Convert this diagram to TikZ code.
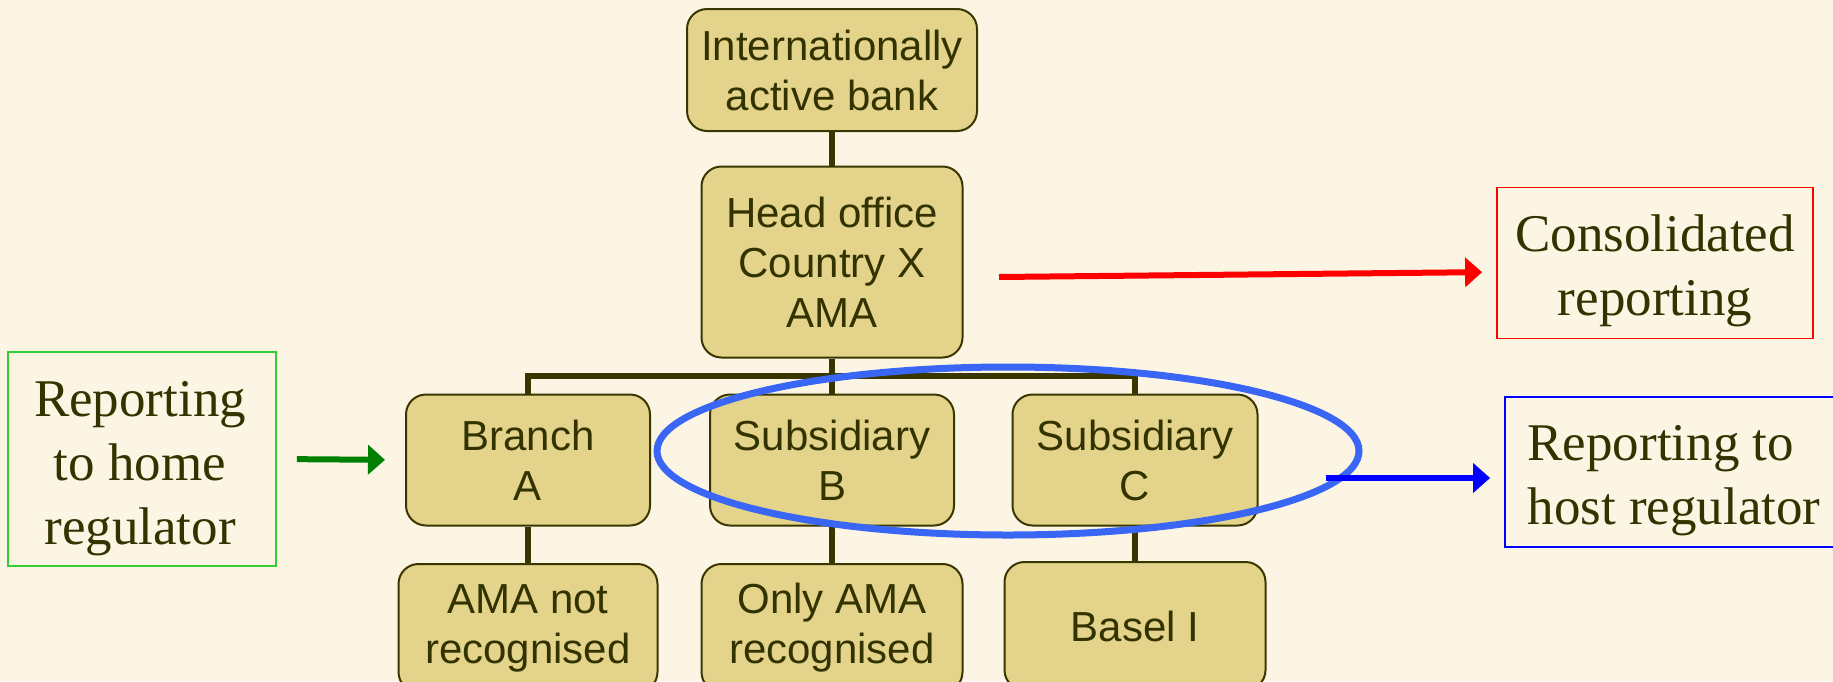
\documentclass[tikz,border=0pt]{standalone}
\usepackage{fontspec}
\setmainfont{Liberation Serif}
\newfontfamily\boxfont{Liberation Sans}
\usetikzlibrary{arrows.meta,calc}
\definecolor{bgc}{HTML}{FCF5E4}
\definecolor{boxfill}{HTML}{E4D48B}
\definecolor{ink}{HTML}{333300}
\definecolor{linkc}{HTML}{3A3600}
\definecolor{ellblue}{HTML}{3A66F5}
\definecolor{greenbox}{HTML}{33CC33}
\definecolor{greenarrow}{HTML}{008000}
\tikzset{
  orgbox/.style={draw=linkc, line width=2pt, fill=boxfill, rounded corners=20pt,
    align=center, text=ink, inner sep=0pt,
    font=\boxfont\fontsize{42}{50}\selectfont},
  sidebox/.style={line width=1.8pt, inner sep=0pt},
  sidetext/.style={text=ink, inner sep=0pt,
    font=\fontsize{53}{64}\selectfont},
  link/.style={draw=linkc, line width=6pt},
  arr/.style={line width=6pt, -{Triangle[length=17pt,width=29pt]}}
}
\begin{document}
\begin{tikzpicture}[x=1pt,y=-1pt]
\fill[bgc] (0,0) rectangle (1833,681);
\useasboundingbox (0,0) rectangle (1833,681);
\clip (0,0) rectangle (1833,681);

% org boxes
\node[orgbox, minimum width=290pt, minimum height=122pt] (top) at (832,70) {Internationally\\active bank};
\node[orgbox, minimum width=261pt, minimum height=191pt] (head) at (832,262) {Head office\\Country X\\AMA};
\node[orgbox, minimum width=244pt, minimum height=131pt] (A) at (528,460) {Branch\\A};
\node[orgbox, minimum width=244pt, minimum height=131pt] (B) at (832,460) {Subsidiary\\B};
\node[orgbox, minimum width=245pt, minimum height=131pt] (C) at (1135,460) {Subsidiary\\C};

% connectors
\coordinate (bar) at (832,376);
\draw[link] (top.south) -- (head.north);
\draw[link] (head.south) -- (B.north);
\draw[link] (A.north) |- (bar) -| (C.north);

\node[orgbox, minimum width=259pt, minimum height=128pt] (A1) at (528,628) {AMA not\\recognised};
\node[orgbox, minimum width=261pt, minimum height=128pt] (B1) at (832,628) {Only AMA\\recognised};
\node[orgbox, minimum width=261pt, minimum height=128pt] (C1) at (1135,626) {Basel I};
\draw[link] (A.south) -- (A1.north);
\draw[link] (B.south) -- (B1.north);
\draw[link] (C.south) -- (C1.north);

% side boxes
\node[sidebox, draw=red, minimum width=316pt, minimum height=151pt] (consol) at (1655,263) {};
\node[sidetext, align=center] (consoltxt) at ($(consol.center)+(0,8)$) {Consolidated\\reporting};
\node[sidebox, draw=blue, minimum width=340pt, minimum height=150pt] (host) at (1675,472) {};
\node[sidetext, align=left] (hosttxt) at ($(host.center)+(-1,9)$) {Reporting to\\host regulator};
\node[sidebox, draw=greenbox, minimum width=268pt, minimum height=214pt] (home) at (142,459) {};
\node[sidetext, align=center] (hometxt) at ($(home.center)+(-2,10)$) {Reporting\\to home\\regulator};

% ellipse
\draw[ellblue, line width=7pt] (1008,451) ellipse [x radius=351pt, y radius=84pt];

% arrows
\coordinate (r0) at (999,277);
\draw[arr, red, shorten >=14pt] (r0) -- ($(consol.west)+(0,9)$);
\coordinate (b0) at (1326,478);
\draw[arr, blue, shorten >=14pt] (b0) -- (host.west |- b0);
\draw[arr, greenarrow, shorten <=20pt, shorten >=20pt] (home.east) -- (A.west);
\end{tikzpicture}
\end{document}
